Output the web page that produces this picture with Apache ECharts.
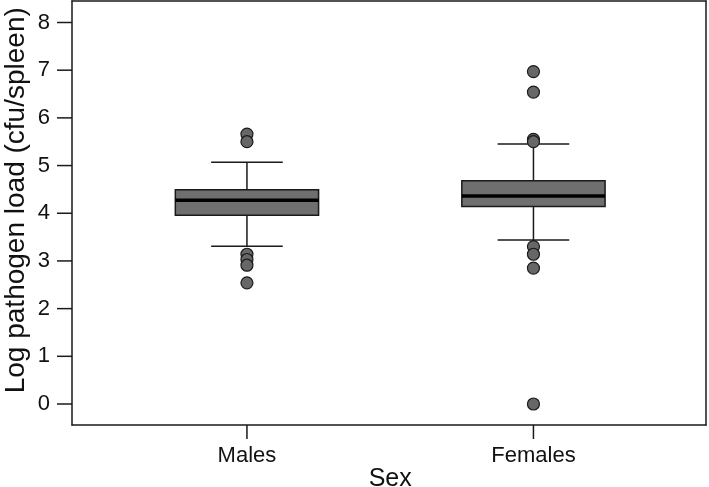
<!DOCTYPE html>
<html>
<head>
<meta charset="utf-8">
<script src="https://cdn.jsdelivr.net/npm/echarts@6/dist/echarts.min.js"></script>
<style>
  html, body { margin: 0; padding: 0; background: #fff; }
  #chart { width: 709px; height: 487px; }
</style>
</head>
<body>
<div id="chart"></div>
<script>
const categories = ['Males', 'Females']
// [lower whisker, Q1, median, Q3, upper whisker]
const malesBox = [3.31, 3.96, 4.27, 4.49, 5.07]
const femalesBox = [3.44, 4.14, 4.36, 4.68, 5.45]
const malesOutliers = [5.66, 5.50, 3.14, 3.03, 2.91, 2.54]
const femalesOutliers = [6.97, 6.54, 5.55, 5.50, 3.30, 3.14, 2.85, 0.0]
const yTicks = [0, 1, 2, 3, 4, 5, 6, 7, 8]
const yMin = -0.44
const yMax = 8.45

const boxData = [
  [0, ...malesBox],
  [1, ...femalesBox],
]
const outlierData = [
  ...malesOutliers.map(v => [0, v]),
  ...femalesOutliers.map(v => [1, v]),
]

const lineColor = '#1a1a1a'
const fillColor = '#6f6f6f'
const tickStyle = { color: lineColor, width: 1.5 }

function renderBox(params, api) {
  const x = api.value(0)
  const lo = api.coord([x, api.value(1)])
  const q1 = api.coord([x, api.value(2)])
  const med = api.coord([x, api.value(3)])
  const q3 = api.coord([x, api.value(4)])
  const hi = api.coord([x, api.value(5)])
  const w = api.size([1, 0])[0] / 2 // box is half the band
  const half = w / 2
  const cap = w / 4
  const cx = lo[0]
  const line = { stroke: lineColor, lineWidth: 1.5 }
  return {
    type: 'group',
    children: [
      { type: 'line', shape: { x1: cx, y1: hi[1], x2: cx, y2: q3[1] }, style: line },
      { type: 'line', shape: { x1: cx, y1: q1[1], x2: cx, y2: lo[1] }, style: line },
      { type: 'line', shape: { x1: cx - cap, y1: hi[1], x2: cx + cap, y2: hi[1] }, style: line },
      { type: 'line', shape: { x1: cx - cap, y1: lo[1], x2: cx + cap, y2: lo[1] }, style: line },
      {
        type: 'rect',
        shape: { x: cx - half, y: q3[1], width: w, height: q1[1] - q3[1] },
        style: { fill: fillColor, stroke: lineColor, lineWidth: 1.5 },
      },
      { type: 'line', shape: { x1: cx - half, y1: med[1], x2: cx + half, y2: med[1] }, style: { stroke: '#000', lineWidth: 3.5 } },
    ],
  }
}

// axis ticks drawn as marks, placed by the axis scale
function renderYTick(params, api) {
  const y = api.coord([0, api.value(1)])[1]
  const x0 = params.coordSys.x
  return {
    type: 'line',
    shape: { x1: x0 - 15, y1: y, x2: x0, y2: y },
    style: { stroke: lineColor, lineWidth: 1.5 },
  }
}
function renderXTick(params, api) {
  const p = api.coord([api.value(0), yMin])
  return {
    type: 'line',
    shape: { x1: p[0], y1: p[1], x2: p[0], y2: p[1] + 14 },
    style: { stroke: lineColor, lineWidth: 1.5 },
  }
}

const hidden = {
  show: false,
  axisLine: { show: false, onZero: false },
  axisTick: { show: false },
  axisLabel: { show: false },
  splitLine: { show: false },
}
// frame side: only the axis line is drawn
function frameAxis(gridIndex, position) {
  return {
    gridIndex,
    position,
    type: 'value',
    min: 0,
    max: 1,
    axisLine: { show: true, onZero: false, lineStyle: tickStyle },
    axisTick: { show: false },
    axisLabel: { show: false },
    splitLine: { show: false },
  }
}
const noBounds = { containLabel: false, outerBoundsMode: 'none' }

const myChart = echarts.init(document.getElementById('chart'))
myChart.setOption({
  animation: false,
  textStyle: { fontFamily: 'Liberation Sans, Arial, sans-serif' },
  grid: [
    // 0: y labels 0..8 (top/bottom sit on the 8 and 0 positions)
    { left: 72, right: 3, top: 22.5, bottom: 83, ...noBounds },
    // 1: plot area for the two categories
    { left: 103.7, right: 32.3, top: 1, bottom: 62, ...noBounds },
    // 2: frame
    { left: 72, right: 3, top: 1, bottom: 62, ...noBounds },
  ],
  xAxis: [
    { gridIndex: 0, type: 'value', min: 0, max: 1, ...hidden },
    {
      gridIndex: 1,
      type: 'category',
      position: 'bottom',
      data: categories,
      boundaryGap: true,
      splitLine: { show: false },
      axisLine: { show: false, onZero: false },
      axisTick: { show: false },
      axisLabel: { fontSize: 22, color: '#111', margin: 20 },
      name: 'Sex',
      nameLocation: 'middle',
      nameGap: 42,
      nameMoveOverlap: false,
      nameTextStyle: { fontSize: 25, color: '#111' },
    },
    frameAxis(2, 'bottom'),
    frameAxis(2, 'top'),
  ],
  yAxis: [
    {
      gridIndex: 0,
      type: 'value',
      position: 'left',
      min: 0,
      max: 8,
      interval: 1,
      splitLine: { show: false },
      axisLine: { show: false, onZero: false },
      axisTick: { show: false },
      axisLabel: { fontSize: 22, color: '#111', margin: 22 },
      name: 'Log pathogen load (cfu/spleen)',
      nameLocation: 'middle',
      nameGap: 42,
      nameMoveOverlap: false,
      nameTextStyle: { fontSize: 28, color: '#111', padding: [0, 0, 0, 26] },
    },
    { gridIndex: 1, type: 'value', min: yMin, max: yMax, ...hidden },
    frameAxis(2, 'left'),
    frameAxis(2, 'right'),
  ],
  series: [
    {
      type: 'custom',
      xAxisIndex: 0,
      yAxisIndex: 0,
      renderItem: renderYTick,
      data: yTicks.map(v => [0, v]),
      clip: false,
      silent: true,
      z: 4,
    },
    {
      type: 'custom',
      xAxisIndex: 1,
      yAxisIndex: 1,
      renderItem: renderXTick,
      data: categories.map((c, i) => [i, yMin]),
      clip: false,
      silent: true,
      z: 4,
    },
    {
      type: 'custom',
      xAxisIndex: 1,
      yAxisIndex: 1,
      renderItem: renderBox,
      data: boxData,
      z: 2,
    },
    {
      type: 'scatter',
      xAxisIndex: 1,
      yAxisIndex: 1,
      data: outlierData,
      symbol: 'circle',
      symbolSize: 12,
      itemStyle: { color: '#676767', borderColor: lineColor, borderWidth: 1.2, opacity: 1 },
      z: 3,
    },
  ],
})
</script>
</body>
</html>
